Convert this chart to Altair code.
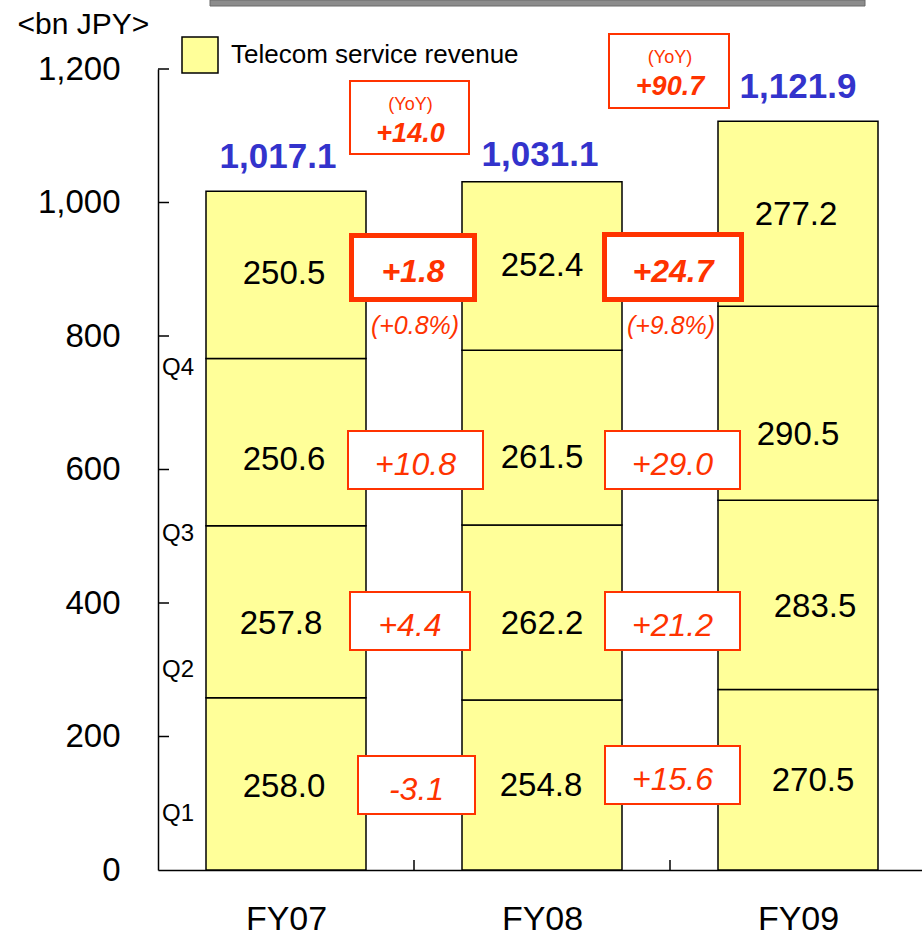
import altair as alt
import pandas as pd

# ---------------- data ----------------
years = ["FY07", "FY08", "FY09"]
quarters = ["Q1", "Q2", "Q3", "Q4"]
rev_fy07 = [258.0, 257.8, 250.6, 250.5]
rev_fy08 = [254.8, 262.2, 261.5, 252.4]
rev_fy09 = [270.5, 283.5, 290.5, 277.2]
totals = [1017.1, 1031.1, 1121.9]
chg_07_08 = [-3.1, 4.4, 10.8, 1.8]
chg_08_09 = [15.6, 21.2, 29.0, 24.7]
q4_growth_pct = [0.8, 9.8]
yoy_change = [14.0, 90.7]
y_ticks = [0, 200, 400, 600, 800, 1000, 1200]
series_name = "Telecom service revenue"

# ---------------- layout ----------------
FONT = "Liberation Sans"
LEFT, TOP = 158, 69
W, H = 764, 801
STEP = 256                 # px per fiscal year band
Y_MAX = 1200
PX = H / Y_MAX             # px per bn JPY
BAR_EDGE = 48 / STEP       # gap from band edge to bar
YELLOW = "#FFFF99"
RED = "#FF3300"
BLUE = "#3333CC"


def xu(px):
    return (px - LEFT) / STEP


def yu(py):
    return (TOP + H - py) / PX


xscale = alt.Scale(domain=[0, W / STEP], nice=False, zero=False)
yscale = alt.Scale(domain=[0, Y_MAX], nice=False, zero=True)

label_expr = " : ".join(
    [f"datum.value < {i + 1} ? '{yr}'" for i, yr in enumerate(years[:-1])]
) + f" : '{years[-1]}'"

x_axis = alt.Axis(
    values=[0.5, 1.5, 2.5], labelExpr=label_expr, ticks=False, tickSize=0,
    grid=False, title=None, domainColor="black", domainWidth=1.5,
    labelFont=FONT, labelFontSize=34, labelColor="black", labelPadding=32,
    labelFlush=False)
y_axis = alt.Axis(
    values=y_ticks, format=",.0f", ticks=False, tickSize=0, grid=False,
    domainColor="black", domainWidth=1.5, labelFont=FONT, labelFontSize=33,
    labelColor="black", labelPadding=38,
    title="<bn JPY>", titleAngle=0, titleAlign="left", titleBaseline="middle",
    titleX=-141, titleY=-45, titleFont=FONT, titleFontSize=30,
    titleFontWeight="normal", titleColor="black")


def X(field):
    return alt.X(field, type="quantitative", scale=xscale, axis=x_axis)


def Y(field):
    return alt.Y(field, type="quantitative", scale=yscale, axis=y_axis)


# label nudges (px) inside each stacked segment
seg_dx = [[-2, -5, -2, -2], [-1, 0, 0, 0], [15, 17, 0, -2]]
seg_dy = [[1, 10, 16, -3], [-1, 10, 18, -2], [-1, 10, 30, -1]]

rows = []
for i, (yr, vals) in enumerate(zip(years, [rev_fy07, rev_fy08, rev_fy09])):
    cum = 0.0
    for j, (q, v) in enumerate(zip(quarters, vals)):
        rows.append({
            "year": yr, "quarter": q, "value": v, "series": series_name,
            "x": i + BAR_EDGE, "x2": i + 1 - BAR_EDGE,
            "y": cum, "y2": cum + v,
            "lx": i + 0.5 + seg_dx[i][j] / STEP,
            "ly": cum + v / 2 - (seg_dy[i][j] + 2) / PX,
            "label": f"{v:.1f}",
        })
        cum += v
bars_df = pd.DataFrame(rows)

# totals above each bar
tot_dx = [-8, -2, 0]
tot_gap = [34, 27, 34]
tot_df = pd.DataFrame({
    "x": [i + 0.5 + d / STEP for i, d in enumerate(tot_dx)],
    "y": [t + g / PX for t, g in zip(totals, tot_gap)],
    "label": [f"{t:,.1f}" for t in totals],
})

# quarter change boxes between the bars: (cx, cy, w, h) in px
box_layout = [
    [(416.5, 785, 119, 60), (410, 621, 122, 60), (415.5, 460, 137, 60), (413, 267.5, 128, 69)],
    [(672.5, 775, 137, 60), (672.5, 621, 137, 60), (672.5, 460, 137, 60), (673, 267, 142, 70)],
]
box_rows = []
for k, chg in enumerate([chg_07_08, chg_08_09]):
    for j, c in enumerate(chg):
        cx, cy, w, h = box_layout[k][j]
        thick = quarters[j] == "Q4"
        inset = 2.5 if thick else 1
        box_rows.append({
            "x": xu(cx - w / 2 + inset), "x2": xu(cx + w / 2 - inset),
            "y": yu(cy + h / 2 - inset), "y2": yu(cy - h / 2 + inset),
            "tx": xu(cx), "ty": yu(cy + 4.5),
            "label": f"{c:+.1f}", "thick": thick,
        })
box_df = pd.DataFrame(box_rows)
thin_df = box_df[~box_df["thick"]]
thick_df = box_df[box_df["thick"]]

pct_df = pd.DataFrame({
    "x": [xu(415), xu(671)],
    "y": [yu(326), yu(326)],
    "label": [f"(+{p:.1f}%)" for p in q4_growth_pct],
})

# year-on-year boxes: (left, top, right, bottom) in px
yoy_layout = [(349, 80, 470, 155), (608, 33, 730, 109)]
yoy_df = pd.DataFrame({
    "x": [xu(l + 1) for l, t, r, b in yoy_layout],
    "x2": [xu(r - 1) for l, t, r, b in yoy_layout],
    "y": [yu(b - 1) for l, t, r, b in yoy_layout],
    "y2": [yu(t + 1) for l, t, r, b in yoy_layout],
    "cx": [xu((l + r) / 2 + 1) for l, t, r, b in yoy_layout],
    "ty1": [yu(t + 25) for l, t, r, b in yoy_layout],
    "ty2": [yu(t + 54) for l, t, r, b in yoy_layout],
    "head": ["(YoY)", "(YoY)"],
    "label": [f"{v:+.1f}" for v in yoy_change],
})

q_df = pd.DataFrame({"q": quarters, "y": [yu(814), yu(670), yu(534), yu(368)]})
ytick_df = pd.DataFrame({"v": y_ticks[1:]})
xtick_df = pd.DataFrame({"v": [1.0, 2.0]})
strip_df = pd.DataFrame({"k": [0]})

bars = alt.Chart(bars_df).mark_rect(stroke="black", strokeWidth=1.5).encode(
    x=X("x"), x2="x2:Q", y=Y("y"), y2="y2:Q",
    color=alt.Color("series:N", scale=alt.Scale(domain=[series_name], range=[YELLOW]),
                    legend=alt.Legend(
                        orient="none", legendX=23, legendY=-33, title=None,
                        symbolType="square", symbolSize=1296,
                        symbolStrokeColor="black", symbolStrokeWidth=1.5,
                        labelFont=FONT, labelFontSize=26, labelColor="black",
                        labelOffset=12, labelLimit=500, padding=0, symbolOffset=0)),
)

seg_text = alt.Chart(bars_df).mark_text(
    font=FONT, fontSize=33, color="black", align="center", baseline="middle"
).encode(x=X("lx"), y=Y("ly"), text="label:N")

tot_text = alt.Chart(tot_df).mark_text(
    font=FONT, fontSize=35, fontWeight="bold", color=BLUE, align="center", baseline="middle"
).encode(x=X("x"), y=Y("y"), text="label:N")

thin_box = alt.Chart(thin_df).mark_rect(fill="white", stroke=RED, strokeWidth=2).encode(
    x=X("x"), x2="x2", y=Y("y"), y2="y2")
thick_box = alt.Chart(thick_df).mark_rect(fill="white", stroke=RED, strokeWidth=5).encode(
    x=X("x"), x2="x2", y=Y("y"), y2="y2")
thin_text = alt.Chart(thin_df).mark_text(
    font=FONT, fontSize=32, fontStyle="italic", color=RED, align="center", baseline="middle"
).encode(x=X("tx"), y=Y("ty"), text="label:N")
thick_text = alt.Chart(thick_df).mark_text(
    font=FONT, fontSize=32, fontStyle="italic", fontWeight="bold", color=RED,
    align="center", baseline="middle"
).encode(x=X("tx"), y=Y("ty"), text="label:N")
pct_text = alt.Chart(pct_df).mark_text(
    font=FONT, fontSize=25, fontStyle="italic", color=RED, align="center", baseline="middle"
).encode(x=X("x"), y=Y("y"), text="label:N")

yoy_box = alt.Chart(yoy_df).mark_rect(fill="white", stroke=RED, strokeWidth=2).encode(
    x=X("x"), x2="x2", y=Y("y"), y2="y2")
yoy_head = alt.Chart(yoy_df).mark_text(
    font=FONT, fontSize=18, color=RED, align="center", baseline="middle"
).encode(x=X("cx"), y=Y("ty1"), text="head:N")
yoy_text = alt.Chart(yoy_df).mark_text(
    font=FONT, fontSize=27, fontStyle="italic", fontWeight="bold", color=RED,
    align="center", baseline="middle"
).encode(x=X("cx"), y=Y("ty2"), text="label:N")

q_text = alt.Chart(q_df).mark_text(
    font=FONT, fontSize=24, color="black", align="left", baseline="middle"
).encode(x=alt.value(4), y=Y("y"), text="q:N")

# inward-pointing axis ticks
ytick = alt.Chart(ytick_df).mark_rule(color="black", strokeWidth=1.5).encode(
    x=alt.value(0), x2=alt.value(11), y=Y("v"))
xtick = alt.Chart(xtick_df).mark_rule(color="black", strokeWidth=1.5).encode(
    x=X("v"), y=alt.value(H), y2=alt.value(H - 10))

strip = alt.Chart(strip_df).mark_rect(fill="#8C8C8C", stroke="#6A6A6A", strokeWidth=1).encode(
    x=alt.value(52), x2=alt.value(707), y=alt.value(-69), y2=alt.value(-63))

chart = alt.layer(
    bars, seg_text, tot_text, thin_box, thick_box, thin_text, thick_text, pct_text,
    yoy_box, yoy_head, yoy_text, q_text, ytick, xtick, strip
).properties(
    width=W, height=H,
    padding={"left": LEFT, "top": TOP, "right": 0, "bottom": 936 - TOP - H},
    autosize=alt.AutoSizeParams(type="none"),
    background="white",
).configure_view(stroke=None)

chart.save("out.html", embed_options={"renderer": "svg", "actions": False})
